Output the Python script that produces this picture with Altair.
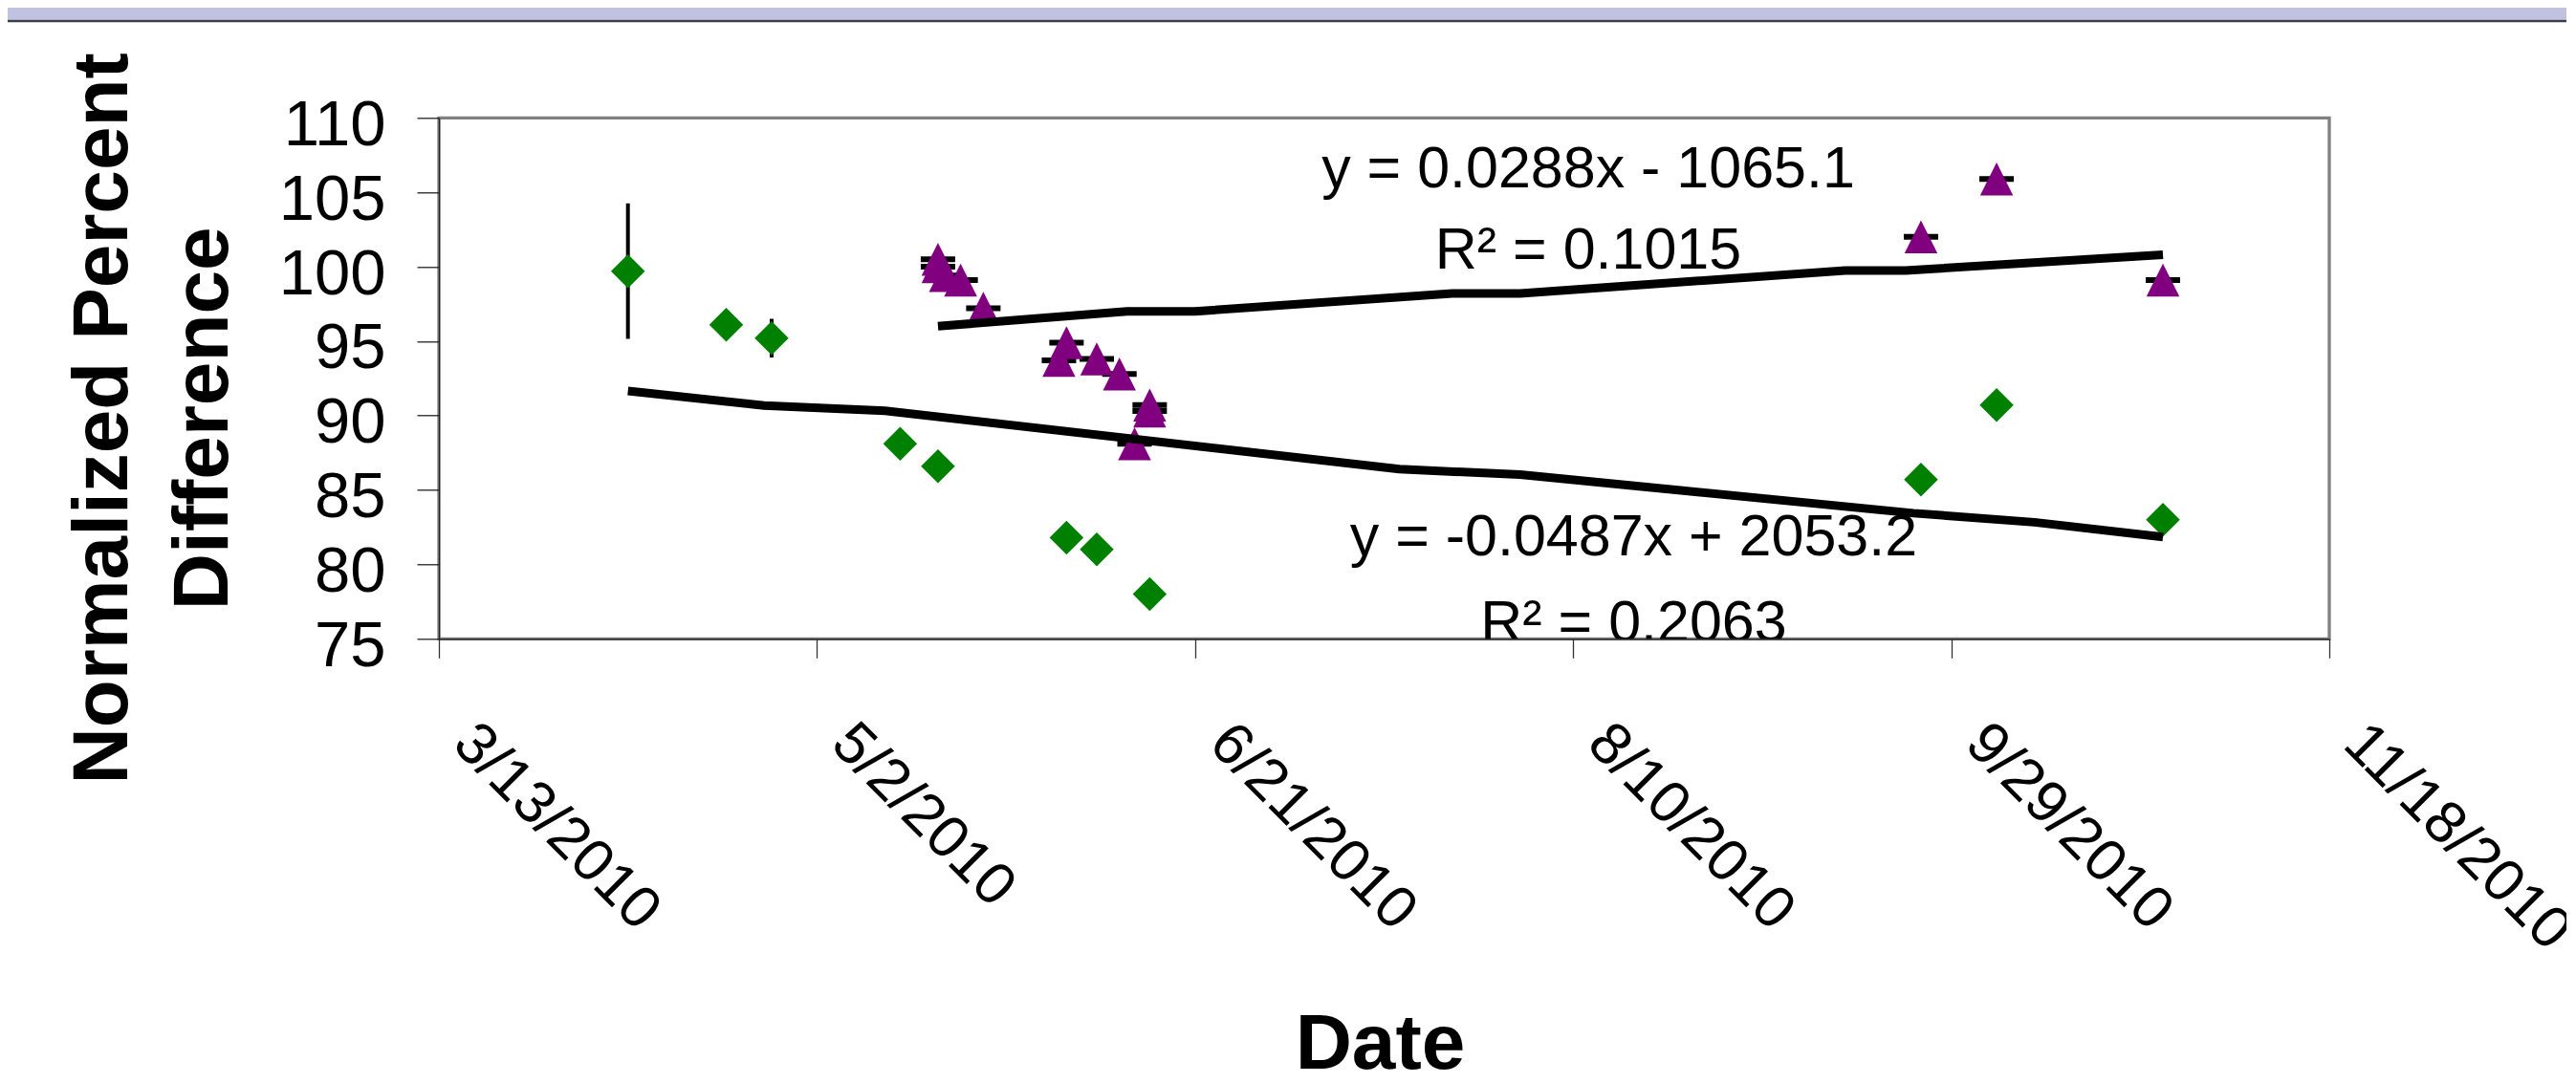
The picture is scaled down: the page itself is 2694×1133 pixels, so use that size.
import altair as alt
import pandas as pd

FONT = "Liberation Sans"

# ---------------- data ----------------
green_dates = ["2010-04-07", "2010-04-20", "2010-04-26", "2010-05-13", "2010-05-18",
               "2010-06-04", "2010-06-08", "2010-06-15", "2010-09-25", "2010-10-05",
               "2010-10-27"]
green_values = [99.7, 96.1, 95.2, 88.1, 86.6, 81.8, 81.0, 78.0, 85.7, 90.7, 83.0]
green_errors = [4.55, 0, 1.3, 0, 0, 0, 0, 0, 0, 0, 0]

purple_dates = ["2010-05-18", "2010-05-18", "2010-05-19", "2010-05-21", "2010-05-24",
                "2010-06-04", "2010-06-03", "2010-06-08", "2010-06-11", "2010-06-15",
                "2010-06-15", "2010-06-13", "2010-09-25", "2010-10-05", "2010-10-27"]
purple_values = [100.5, 100.0, 99.4, 99.1, 97.2, 94.9, 93.7, 93.8, 92.8, 90.7,
                 90.3, 88.1, 102.0, 105.9, 99.1]

green_trend_dates = ["2010-04-07", "2010-04-25", "2010-05-11", "2010-07-18",
                     "2010-08-03", "2010-09-24", "2010-10-10", "2010-10-27"]
green_trend_values = [91.65, 90.67, 90.32, 86.40, 86.03, 83.44, 82.83, 81.84]

purple_trend_dates = ["2010-05-18", "2010-06-12", "2010-06-21", "2010-07-25",
                      "2010-08-03", "2010-09-15", "2010-09-23", "2010-10-27"]
purple_trend_values = [96.0, 97.0, 97.0, 98.2, 98.2, 99.75, 99.75, 100.8]

x_tick_dates = ["2010-03-13", "2010-05-02", "2010-06-21", "2010-08-10",
                "2010-09-29", "2010-11-18"]
y_ticks = [75, 80, 85, 90, 95, 100, 105, 110]

annotation_texts = ["y = 0.0288x - 1065.1", "R\u00b2 = 0.1015",
                    "y = -0.0487x + 2053.2", "R\u00b2 = 0.2063"]
annotation_dates = ["2010-08-12", "2010-08-12", "2010-08-18", "2010-08-18"]
annotation_values = [105.3, 99.9, 80.6, 74.85]

# ---------------- tables ----------------
green_df = pd.DataFrame({"date": green_dates, "value": green_values, "err": green_errors})
purple_df = pd.DataFrame({"date": purple_dates, "value": purple_values})
gtrend_df = pd.DataFrame({"date": green_trend_dates, "value": green_trend_values})
ptrend_df = pd.DataFrame({"date": purple_trend_dates, "value": purple_trend_values})
ann_df = pd.DataFrame({"date": annotation_dates, "value": annotation_values,
                       "label": annotation_texts})


def ms(d):
    return int(pd.Timestamp(d).value // 10**6)


x_scale = alt.Scale(type="utc", domain=[ms(x_tick_dates[0]), ms(x_tick_dates[-1])], nice=False)
y_scale = alt.Scale(domain=[75, 110], nice=False, zero=False)

PLOT_W, PLOT_H = 1977, 545

x_axis = alt.Axis(
    values=[ms(d) for d in x_tick_dates], format="%-m/%-d/%Y",
    labelAngle=45, labelAlign="left", labelBaseline="alphabetic",
    labelFont=FONT, labelFontSize=62, labelColor="black", labelLimit=0,
    labelPadding=92, labelOffset=12, labelFlush=False, labelOverlap=False,
    tickSize=20, tickColor="#333333", tickWidth=1.3,
    domainColor="#222222", domainWidth=1.3, grid=False,
    titleFont=FONT, titleFontSize=82, titleFontWeight="bold", titleColor="black",
    titleX=984, titleY=449, titleAlign="center", titleBaseline="alphabetic",
)
y_axis = alt.Axis(
    values=y_ticks, labelFont=FONT, labelFontSize=67, labelColor="black",
    labelPadding=33, labelBaseline="alphabetic", labelOffset=28,
    tickSize=23, tickColor="#222222", tickWidth=1.3,
    domainColor="#222222", domainWidth=1.3, grid=False,
    titleFont=FONT, titleFontSize=82, titleFontWeight="bold", titleColor="black",
    titleAngle=270, titleAlign="center", titleBaseline="alphabetic",
    titleX=-327, titleY=314, titleLineHeight=106, titleLimit=0,
)

Y_TITLE = ["Normalized Percent", "Difference"]


def X(field="date"):
    return alt.X(f"{field}:T", scale=x_scale, axis=x_axis, title="Date")


def Y(field="value"):
    return alt.Y(f"{field}:Q", scale=y_scale, axis=y_axis, title=Y_TITLE)


one = alt.Data(values=[{"k": 1}])

banner = alt.Chart(one).mark_rect(color="#C1C1E0").encode(
    x=alt.value(-470), x2=alt.value(2300), y=alt.value(-130), y2=alt.value(-102.6))
banner_line = alt.Chart(one).mark_rect(color="#3C3C4C").encode(
    x=alt.value(-470), x2=alt.value(2300), y=alt.value(-102.6), y2=alt.value(-100))

green_err = alt.Chart(green_df).transform_calculate(
    lo="datum.value - datum.err", hi="datum.value + datum.err"
).mark_rule(color="black", strokeWidth=4).encode(x=X(), y=Y("lo"), y2="hi:Q")

purple_caps = alt.Chart(purple_df).mark_tick(
    orient="horizontal", color="black", thickness=6, size=36, opacity=1
).encode(x=X(), y=Y())

green_pts = alt.Chart(green_df).mark_point(
    shape="diamond", filled=True, size=1260, color="#008000", opacity=1, strokeWidth=0
).encode(x=X(), y=Y())

purple_pts = alt.Chart(purple_df).mark_point(
    shape="M0,-1L1,1L-1,1Z", filled=True, size=1190, color="#800080", opacity=1, strokeWidth=0
).encode(x=X(), y=Y())

green_trend = alt.Chart(gtrend_df).mark_line(color="black", strokeWidth=9).encode(x=X(), y=Y())
purple_trend = alt.Chart(ptrend_df).mark_line(color="black", strokeWidth=9).encode(x=X(), y=Y())

annotations = alt.Chart(ann_df).mark_text(
    font=FONT, fontSize=61, color="black", align="center", baseline="alphabetic", clip=True
).encode(x=X(), y=Y(), text="label:N")

chart = alt.layer(
    banner, banner_line, green_err, purple_caps, green_pts, purple_pts,
    green_trend, purple_trend, annotations
).properties(
    width=PLOT_W, height=PLOT_H,
    autosize=alt.AutoSizeParams(type="none"),
    padding={"left": 451, "top": 115.3, "right": 248, "bottom": 456},
    background="white",
).configure_view(stroke="#808080", strokeWidth=3.3)

chart.save("out.html", embed_options={"renderer": "svg", "actions": False})
